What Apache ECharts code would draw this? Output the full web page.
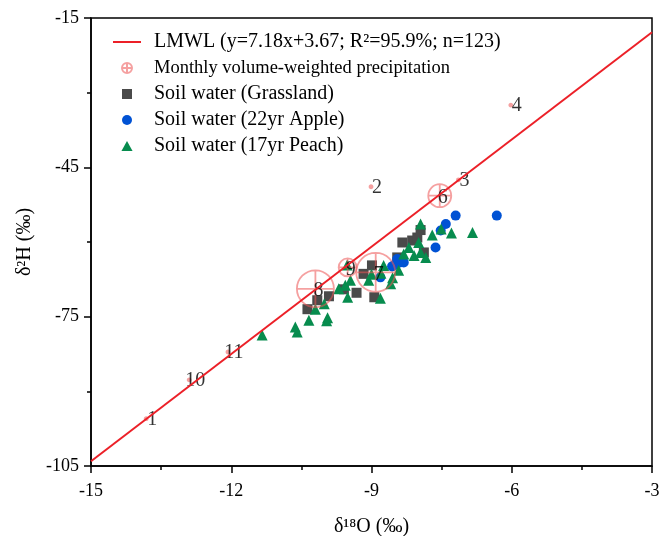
<!DOCTYPE html>
<html style="height: 100%;">
<head>
<meta charset="utf-8">
<script src="https://cdn.jsdelivr.net/npm/echarts@6/dist/echarts.min.js"></script>
</head>
<body style="height: 100%; margin: 0; background-color: #fff;">
<div id="container" style="width: 670px; height: 536px;"></div>
<script type="text/javascript">
// axis ticks
var xMin = -15, xMax = -3, xStep = 3;
var yTicks = [-105, -75, -45, -15];
var yMinorTicks = [-90, -60, -30];

// LMWL end points (y = 7.18x + 3.67)
var lmwlX = [-15, -3];
var lmwlY = [-104.03, -17.87];

// monthly volume-weighted precipitation
var precipMonth = ['1', '2', '3', '4', '6', '7', '8', '9', '10', '11'];
var precipX = [-13.82, -9.01, -7.14, -6.02, -7.54, -8.91, -10.20, -9.51, -12.90, -12.07];
var precipY = [-95.5, -48.9, -47.5, -32.5, -50.7, -66.1, -69.4, -65.1, -87.7, -82.1];
var precipSize = [3, 3, 3, 3, 23, 39, 37, 18, 3, 3];

// soil water
var grassX = [-10.37, -10.16, -9.91, -9.59, -9.32, -9.17, -8.99, -8.94, -8.45, -8.34, -8.13, -8.02, -7.95, -7.88];
var grassY = [-73.5, -71.7, -70.9, -69.5, -70.2, -66.4, -64.7, -71.1, -63.1, -60.1, -59.7, -59.1, -57.6, -62.1];

var appleX = [-8.81, -8.56, -8.52, -8.45, -8.39, -8.31, -7.63, -7.52, -7.41, -7.20, -6.32];
var appleY = [-67.1, -64.9, -64.7, -63.4, -64.1, -64.1, -61.1, -57.7, -56.4, -54.7, -54.7];

var peachX = [-11.34, -10.63, -10.59, -10.34, -9.94, -9.96, -10.20, -10.01, -9.70, -9.51, -9.56, -9.45, -9.52,
              -9.06, -9.00, -8.81, -8.80, -8.74, -8.59, -8.55, -8.42, -8.31, -8.20, -8.09, -7.99, -7.95, -7.84,
              -7.95, -7.70, -7.51, -7.29, -6.84];
var peachY = [-78.7, -77.1, -78.1, -75.7, -75.2, -75.8, -73.5, -72.4, -69.4, -71.1, -68.7, -67.7, -64.6,
              -67.7, -66.5, -71.3, -66.3, -64.7, -68.4, -67.2, -65.7, -62.4, -61.1, -62.7, -60.1, -62.1, -63.1,
              -56.4, -58.6, -57.4, -58.2, -58.1];

var names = ['LMWL (y=7.18x+3.67; R\u00b2=95.9%; n=123)', 'Monthly volume-weighted precipitation',
             'Soil water (Grassland)', 'Soil water (22yr Apple)', 'Soil water (17yr Peach)'];

function pairs(xs, ys) {
    return xs.map(function (x, i) { return [x, ys[i]]; });
}

var font = 'Liberation Serif';
var crossCircle = 'path://M0,50 A50,50 0 1,0 100,50 A50,50 0 1,0 0,50 Z M50,0 L50,100 M0,50 L100,50';
// legend icons, kept square inside the 28px wide slot
var lineIcon = 'path://M0,0 L28,0 L28,2 L0,2 Z';
var rectIcon = 'path://M0,0 L10,0 L10,10 L0,10 Z';
var dotIcon = 'path://M0,5 A5,5 0 1,0 10,5 A5,5 0 1,0 0,5 Z';
var triIcon = 'path://M5,0 L10,9 L0,9 Z';

var precipData = precipX.map(function (x, i) {
    var big = precipSize[i] > 10;
    return {
        value: [x, precipY[i]],
        symbolSize: precipSize[i],
        label: {
            show: true,
            formatter: precipMonth[i],
            position: 'inside',
            offset: big ? [3, 2] : [6, 1]
        }
    };
});

var dom = document.getElementById('container');
var myChart = echarts.init(dom);
var option = {
    animation: false,
    backgroundColor: '#fff',
    textStyle: { fontFamily: font },
    grid: {
        left: 91, right: 18, top: 18, bottom: 70,
        outerBoundsMode: 'none',
        show: true, borderColor: '#000', borderWidth: 1.5
    },
    legend: {
        orient: 'vertical',
        left: 113,
        top: 32,
        padding: 0,
        itemWidth: 28,
        itemHeight: 10,
        itemGap: 6,
        data: [
            { name: names[0], icon: lineIcon },
            { name: names[1] },
            { name: names[2], icon: rectIcon },
            { name: names[3], icon: dotIcon },
            { name: names[4], icon: triIcon }
        ],
        formatter: function (name) {
            return name.indexOf('Monthly') === 0 ? '{m|' + name + '}' : name;
        },
        textStyle: {
            fontFamily: font,
            fontSize: 20,
            lineHeight: 20,
            color: '#000',
            padding: [0, 0, 0, 8],
            rich: {
                m: { fontFamily: font, fontSize: 18.5, lineHeight: 20, color: '#000' }
            }
        }
    },
    xAxis: {
        type: 'value',
        min: xMin,
        max: xMax,
        interval: xStep,
        name: '\u03b4\u00b9\u2078O (\u2030)',
        nameLocation: 'middle',
        nameGap: 51,
        nameTextStyle: { fontFamily: font, fontSize: 20, color: '#000' },
        axisLine: { onZero: false, lineStyle: { color: '#000', width: 1.5 } },
        axisTick: { length: 7, lineStyle: { color: '#000', width: 1.5 } },
        minorTick: { show: true, splitNumber: 2, length: 4, lineStyle: { color: '#000', width: 1.5 } },
        axisLabel: { fontFamily: font, fontSize: 18, color: '#000', margin: 16 },
        splitLine: { show: false }
    },
    yAxis: [{
        type: 'value',
        min: yTicks[0],
        max: yTicks[yTicks.length - 1],
        name: '\u03b4\u00b2H (\u2030)',
        nameLocation: 'middle',
        nameGap: 52,
        nameTextStyle: { fontFamily: font, fontSize: 20, color: '#000' },
        axisLine: { show: true, onZero: false, lineStyle: { color: '#000', width: 1.5 } },
        axisTick: { show: true, length: 7, customValues: yTicks, lineStyle: { color: '#000', width: 1.5 } },
        axisLabel: { fontFamily: font, fontSize: 18, color: '#000', margin: 12, customValues: yTicks },
        splitLine: { show: false }
    }, {
        type: 'value',
        position: 'left',
        min: yTicks[0],
        max: yTicks[yTicks.length - 1],
        axisLine: { show: false },
        axisTick: { show: true, length: 4, customValues: yMinorTicks, lineStyle: { color: '#000', width: 1.5 } },
        axisLabel: { show: false },
        splitLine: { show: false }
    }],
    series: [{
        name: names[0],
        type: 'line',
        data: pairs(lmwlX, lmwlY),
        symbol: 'none',
        z: 6,
        lineStyle: { color: '#ec2028', width: 2 },
        itemStyle: { color: '#ec2028' }
    }, {
        name: names[1],
        type: 'scatter',
        symbol: crossCircle,
        data: precipData,
        z: 5,
        itemStyle: { color: 'none', borderColor: 'rgba(238,85,85,0.7)', borderWidth: 1.8 },
        label: { color: '#000', fontFamily: font, fontSize: 20 }
    }, {
        name: names[2],
        type: 'scatter',
        symbol: 'rect',
        symbolSize: 10,
        data: pairs(grassX, grassY),
        z: 2,
        itemStyle: { color: '#4a4a4a', opacity: 1 }
    }, {
        name: names[3],
        type: 'scatter',
        symbol: 'circle',
        symbolSize: 10,
        data: pairs(appleX, appleY),
        z: 3,
        itemStyle: { color: '#0052d4', opacity: 1 }
    }, {
        name: names[4],
        type: 'scatter',
        symbol: 'triangle',
        symbolSize: 11,
        data: pairs(peachX, peachY),
        z: 4,
        itemStyle: { color: '#078c4e', opacity: 1 }
    }]
};
myChart.setOption(option);
</script>
</body>
</html>
